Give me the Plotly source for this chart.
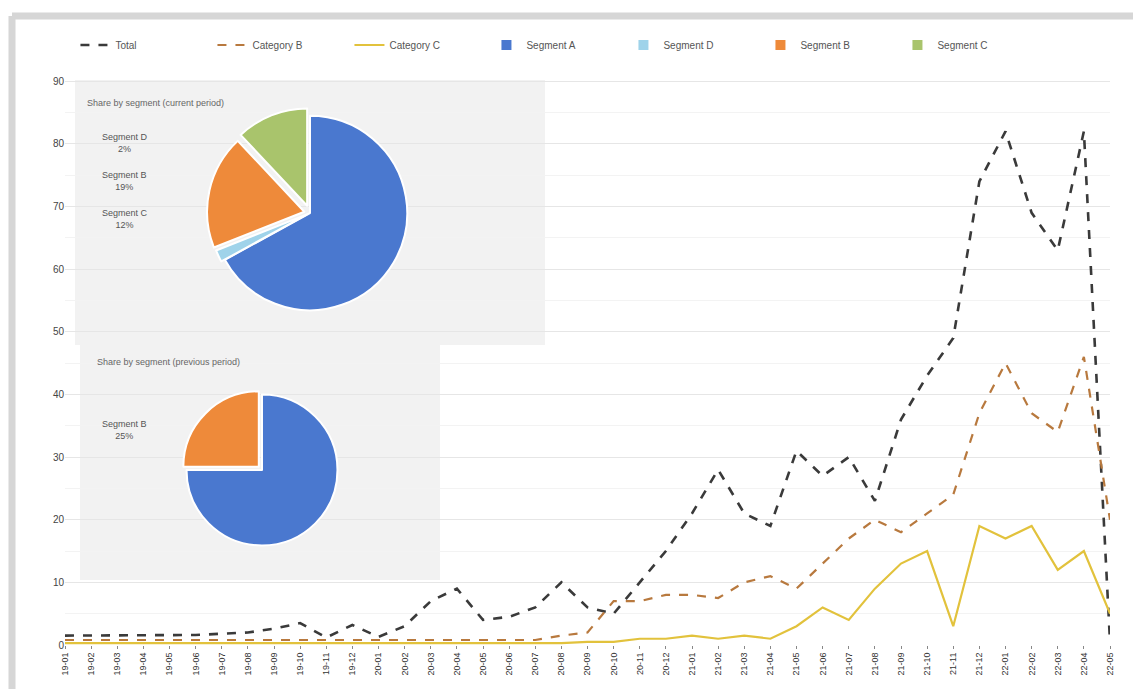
import plotly.graph_objects as go

# ---- data -------------------------------------------------------------
months = [f"{19 + (m // 12)}-{(m % 12) + 1:02d}" for m in range(0, 41)]

total = [1.5, 1.5, 1.5, 1.5, 1.6, 1.6, 1.8, 2.0, 2.6, 3.5,
         1.2, 3.2, 1.3, 3.0, 7.0, 9.0, 4.0, 4.5, 6.0, 10.0,
         6.0, 5.0, 10.0, 15.0, 21.0, 28.0, 21.0, 19.0, 31.0, 27.0,
         30.0, 23.0, 36.0, 43.0, 49.0, 74.0, 82.0, 69.0, 63.0, 82.0,
         0.5]
series_b = [0.8, 0.8, 0.8, 0.8, 0.8, 0.8, 0.8, 0.8, 0.8, 0.8,
            0.8, 0.8, 0.8, 0.8, 0.8, 0.8, 0.8, 0.8, 0.8, 1.5,
            2.0, 7.0, 7.0, 8.0, 8.0, 7.5, 10.0, 11.0, 9.0, 13.0,
            17.0, 20.0, 18.0, 21.0, 24.0, 37.0, 45.0, 37.0, 34.0, 46.0,
            20.0]
series_c = [0.3, 0.3, 0.3, 0.3, 0.3, 0.3, 0.3, 0.3, 0.3, 0.3,
            0.3, 0.3, 0.3, 0.3, 0.3, 0.3, 0.3, 0.3, 0.3, 0.3,
            0.5, 0.5, 1.0, 1.0, 1.5, 1.0, 1.5, 1.0, 3.0, 6.0,
            4.0, 9.0, 13.0, 15.0, 3.0, 19.0, 17.0, 19.0, 12.0, 15.0,
            5.0]
line_names = ["Total", "Category B", "Category C"]

pie1_labels = ["Segment A", "Segment D", "Segment B", "Segment C"]
pie1_values = [67, 2, 19, 12]
pie2_labels = ["Segment A", "Segment B"]
pie2_values = [75, 25]

y_ticks = [0, 10, 20, 30, 40, 50, 60, 70, 80, 90]

# ---- geometry helpers (pixel -> paper) ---------------------------------
W, H = 1133, 689
ML, MR, MT, MB = 65, 23, 75, 44
PW, PH = W - ML - MR, H - MT - MB


def px(x):
    return (x - ML) / PW


def py(y):
    return (H - MB - y) / PH


fig = go.Figure()

fig.add_trace(go.Scatter(x=months, y=total, name=line_names[0], mode="lines",
                         line=dict(color="#3a3a3a", width=2.6, dash="dash")))
fig.add_trace(go.Scatter(x=months, y=series_b, name=line_names[1], mode="lines",
                         line=dict(color="#b8793e", width=2.2, dash="dash")))
fig.add_trace(go.Scatter(x=months, y=series_c, name=line_names[2], mode="lines",
                         line=dict(color="#e2c23c", width=2.2)))

pie_colors = {"Segment A": "#4a78cf", "Segment B": "#ee8a3a",
              "Segment C": "#a9c46c", "Segment D": "#9fd3ea"}

fig.add_trace(go.Pie(
    labels=pie1_labels, values=pie1_values, sort=False, direction="clockwise",
    rotation=0, pull=[0, 0.04, 0.06, 0.08],
    marker=dict(colors=[pie_colors[l] for l in pie1_labels],
                line=dict(color="white", width=2)),
    textinfo="none", hoverinfo="label+percent",
    domain=dict(x=[px(205), px(415)], y=[py(318), py(108)]),
    showlegend=True))

fig.add_trace(go.Pie(
    labels=pie2_labels, values=pie2_values, sort=False, direction="clockwise",
    rotation=0, pull=[0, 0.06],
    marker=dict(colors=[pie_colors[l] for l in pie2_labels],
                line=dict(color="white", width=2)),
    textinfo="none", hoverinfo="label+percent",
    domain=dict(x=[px(182), px(342)], y=[py(550), py(390)]),
    showlegend=True))

# percentage labels next to the pies, computed from the slice values
tot1 = sum(pie1_values)
tot2 = sum(pie2_values)
annotations = []
for i, (lab, val) in enumerate(zip(pie1_labels[1:], pie1_values[1:])):
    annotations.append(dict(
        x=px(100), y=py(130 + 38 * i), xref="paper", yref="paper",
        text=f"{lab}<br>{val / tot1:.0%}", showarrow=False, xanchor="left",
        font=dict(size=9, color="#555")))
annotations.append(dict(
    x=px(85), y=py(96), xref="paper", yref="paper", xanchor="left",
    text="Share by segment (current period)", showarrow=False,
    font=dict(size=9, color="#666")))
annotations.append(dict(
    x=px(100), y=py(430), xref="paper", yref="paper", xanchor="left",
    text=f"{pie2_labels[1]}<br>{pie2_values[1] / tot2:.0%}", showarrow=False,
    font=dict(size=9, color="#555")))
annotations.append(dict(
    x=px(95), y=py(362), xref="paper", yref="paper", xanchor="left",
    text="Share by segment (previous period)", showarrow=False,
    font=dict(size=9, color="#666")))

shapes = [
    # inset backgrounds
    dict(type="rect", xref="paper", yref="paper", layer="between",
         x0=px(75), x1=px(545), y0=py(345), y1=py(80),
         fillcolor="#f2f2f2", line=dict(width=0)),
    dict(type="rect", xref="paper", yref="paper", layer="between",
         x0=px(80), x1=px(440), y0=py(580), y1=py(345),
         fillcolor="#f2f2f2", line=dict(width=0)),
    # outer frame
    dict(type="line", xref="paper", yref="paper", x0=px(12), x1=px(1133),
         y0=py(16), y1=py(16), line=dict(color="#d6d6d6", width=7)),
    dict(type="line", xref="paper", yref="paper", x0=px(12), x1=px(12),
         y0=py(16), y1=py(689), line=dict(color="#d6d6d6", width=7)),
]

fig.update_layout(
    width=W, height=H,
    margin=dict(l=ML, r=MR, t=MT, b=MB, autoexpand=False),
    paper_bgcolor="white", plot_bgcolor="white",
    font=dict(family="Liberation Sans, Arial, sans-serif", size=11, color="#444"),
    legend=dict(orientation="h", x=0.01, y=py(45), yanchor="middle",
                xanchor="left", font=dict(size=10, color="#555"),
                bgcolor="rgba(0,0,0,0)", entrywidth=92, entrywidthmode="pixels"),
    xaxis=dict(type="category", tickangle=-90, showgrid=False,
               ticks="outside", ticklen=3, tickcolor="#888",
               tickfont=dict(size=9, color="#333"), automargin=False,
               showline=False, zeroline=False),
    yaxis=dict(range=[0, 91], tickvals=y_ticks, showgrid=True,
               gridcolor="#e6e6e6", gridwidth=1,
               minor=dict(dtick=5, showgrid=True, gridcolor="#f3f3f3"),
               tickfont=dict(size=10, color="#444"), zeroline=False,
               automargin=False),
    shapes=shapes,
    annotations=annotations,
)

fig.write_html("out.html")
